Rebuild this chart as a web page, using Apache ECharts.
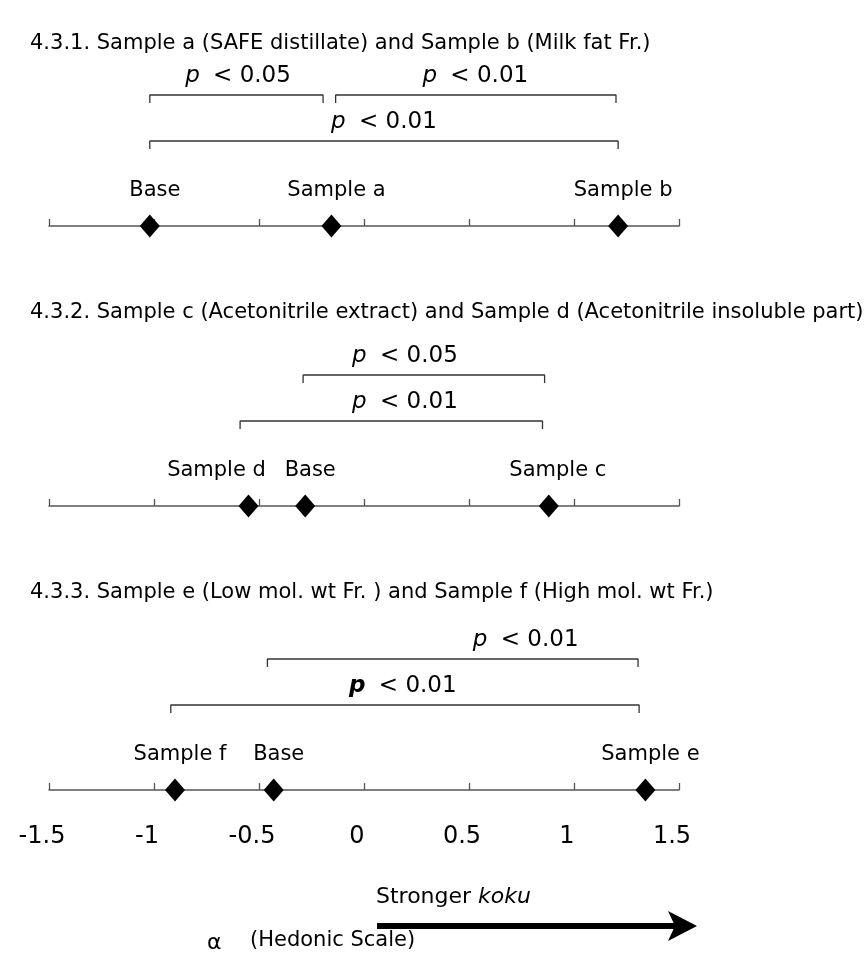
<!DOCTYPE html>
<html>
<head>
<meta charset="utf-8">
<script src="https://cdn.jsdelivr.net/npm/echarts@6/dist/echarts.min.js"></script>
<style>html,body{margin:0;padding:0;background:#fff}#c{width:864px;height:959px}</style>
</head>
<body>
<div id="c"></div>
<script>
// ---- data ----
const axisTicks = [-1.5, -1, -0.5, 0, 0.5, 1, 1.5];
const titles = [
  '4.3.1. Sample a (SAFE distillate) and Sample b (Milk fat Fr.)',
  '4.3.2. Sample c (Acetonitrile extract) and Sample d (Acetonitrile insoluble part)',
  '4.3.3. Sample e (Low mol. wt Fr. ) and Sample f (High mol. wt Fr.)'
];
// panel 1
const p1Names = ['Base', 'Sample a', 'Sample b'];
const p1Alpha = [-1.02, -0.155, 1.21];
const p1BracketFrom = [-1.02, -0.135, -1.02];
const p1BracketTo = [-0.195, 1.20, 1.21];
const p1BracketLevel = [2, 2, 1];
const p1BracketP = ['0.05', '0.01', '0.01'];
const p1TextAt = [-0.60, 0.53, 0.095];
// panel 2
const p2Names = ['Sample d', 'Base', 'Sample c'];
const p2Alpha = [-0.55, -0.28, 0.88];
const p2BracketFrom = [-0.29, -0.59];
const p2BracketTo = [0.86, 0.85];
const p2BracketLevel = [2, 1];
const p2BracketP = ['0.05', '0.01'];
const p2TextAt = [0.195, 0.195];
// panel 3
const p3Names = ['Sample f', 'Base', 'Sample e'];
const p3Alpha = [-0.90, -0.43, 1.34];
const p3BracketFrom = [-0.46, -0.92];
const p3BracketTo = [1.305, 1.31];
const p3BracketLevel = [2, 1];
const p3BracketP = ['0.01', '0.01'];
const p3TextAt = [0.77, 0.185];
const p3BoldP = [false, true];

// ---- layout (pixels) ----
const FONT = 'DejaVu Sans';
const axisY = [226, 506, 790];
const titleTop = [33, 302, 582];
const H = 170;
const levelH = {1: 85, 2: 131};
const drop = 8;
const labelShift = {'Sample d': -32, 'Sample c': 9};

const panels = [
  {names: p1Names, alpha: p1Alpha, from: p1BracketFrom, to: p1BracketTo, lvl: p1BracketLevel, p: p1BracketP, at: p1TextAt, bold: [false,false,false]},
  {names: p2Names, alpha: p2Alpha, from: p2BracketFrom, to: p2BracketTo, lvl: p2BracketLevel, p: p2BracketP, at: p2TextAt, bold: [false,false]},
  {names: p3Names, alpha: p3Alpha, from: p3BracketFrom, to: p3BracketTo, lvl: p3BracketLevel, p: p3BracketP, at: p3TextAt, bold: p3BoldP}
];

const grids = [], xAxes = [], yAxes = [], series = [];
panels.forEach((pn, i) => {
  grids.push({left: 49, width: 630, top: axisY[i] - H, height: H});
  xAxes.push({
    type: 'value', gridIndex: i, min: axisTicks[0], max: axisTicks[axisTicks.length - 1], interval: 0.5,
    axisLine: {show: true, lineStyle: {color: '#555', width: 1.5}},
    axisTick: {show: true, inside: true, length: 7, lineStyle: {color: '#555', width: 1.3}},
    splitLine: {show: false},
    axisLabel: {show: i === 2, fontSize: 24, fontFamily: FONT, color: '#000', margin: 35,
      padding: [0, 14, 0, 0], formatter: v => String(v)}
  });
  yAxes.push({type: 'value', gridIndex: i, min: 0, max: H, show: false});
  // brackets
  pn.from.forEach((f, k) => {
    const h = levelH[pn.lvl[k]];
    series.push({
      type: 'line', xAxisIndex: i, yAxisIndex: i, silent: true, symbol: 'none', clip: false,
      lineStyle: {color: '#333', width: 1.3},
      data: [[f, h - drop], [f, h], [pn.to[k], h], [pn.to[k], h - drop]]
    });
    series.push({
      type: 'scatter', xAxisIndex: i, yAxisIndex: i, silent: true, symbolSize: 0, clip: false,
      itemStyle: {opacity: 1},
      data: [[pn.at[k], h + 19]],
      label: {show: true, position: 'inside', formatter: '{p|p}{t| < ' + pn.p[k] + '}',
        rich: {
          p: {fontSize: 23, fontFamily: FONT, fontStyle: 'italic', fontWeight: pn.bold[k] ? 'bold' : 'normal', color: '#000', padding: [0, 6, 0, 0]},
          t: {fontSize: 23, fontFamily: FONT, color: '#000'}
        }}
    });
  });
  // points
  series.push({
    type: 'scatter', xAxisIndex: i, yAxisIndex: i, clip: false, silent: true,
    symbol: 'diamond', symbolSize: [20, 23],
    itemStyle: {color: '#000', opacity: 1},
    data: pn.alpha.map((v, k) => ({name: pn.names[k], value: [v, 0],
      label: {offset: [labelShift[pn.names[k]] !== undefined ? labelShift[pn.names[k]] : 5, 0]}})),
    label: {show: true, position: 'top', distance: 13, formatter: p => p.name,
      fontSize: 21, fontFamily: FONT, color: '#000'}
  });
});

const chart = echarts.init(document.getElementById('c'), null, {renderer: 'canvas'});
chart.setOption({
  animation: false,
  backgroundColor: '#fff',
  title: titles.map((t, i) => ({text: t, left: 30, top: titleTop[i], padding: 0,
    textStyle: {fontSize: 21, fontWeight: 'normal', fontFamily: FONT, color: '#000'}})),
  grid: grids, xAxis: xAxes, yAxis: yAxes, series: series,
  graphic: [
    {type: 'text', left: 376, top: 886, style: {text: '{n|Stronger }{i|koku}',
      rich: {n: {fontSize: 22, fontFamily: FONT, fill: '#000'}, i: {fontSize: 22, fontFamily: FONT, fontStyle: 'italic', fill: '#000'}}}},
    {type: 'rect', shape: {x: 377, y: 923, width: 300, height: 6}, style: {fill: '#000'}},
    {type: 'polygon', shape: {points: [[697, 926], [668, 911], [675, 926], [668, 941]]}, style: {fill: '#000'}},
    {type: 'text', left: 207, top: 932, style: {text: 'α', fontSize: 22, fontFamily: FONT, fill: '#000'}},
    {type: 'text', left: 250, top: 930, style: {text: '(Hedonic Scale)', fontSize: 21, fontFamily: FONT, fill: '#000'}}
  ]
});
</script>
</body>
</html>
